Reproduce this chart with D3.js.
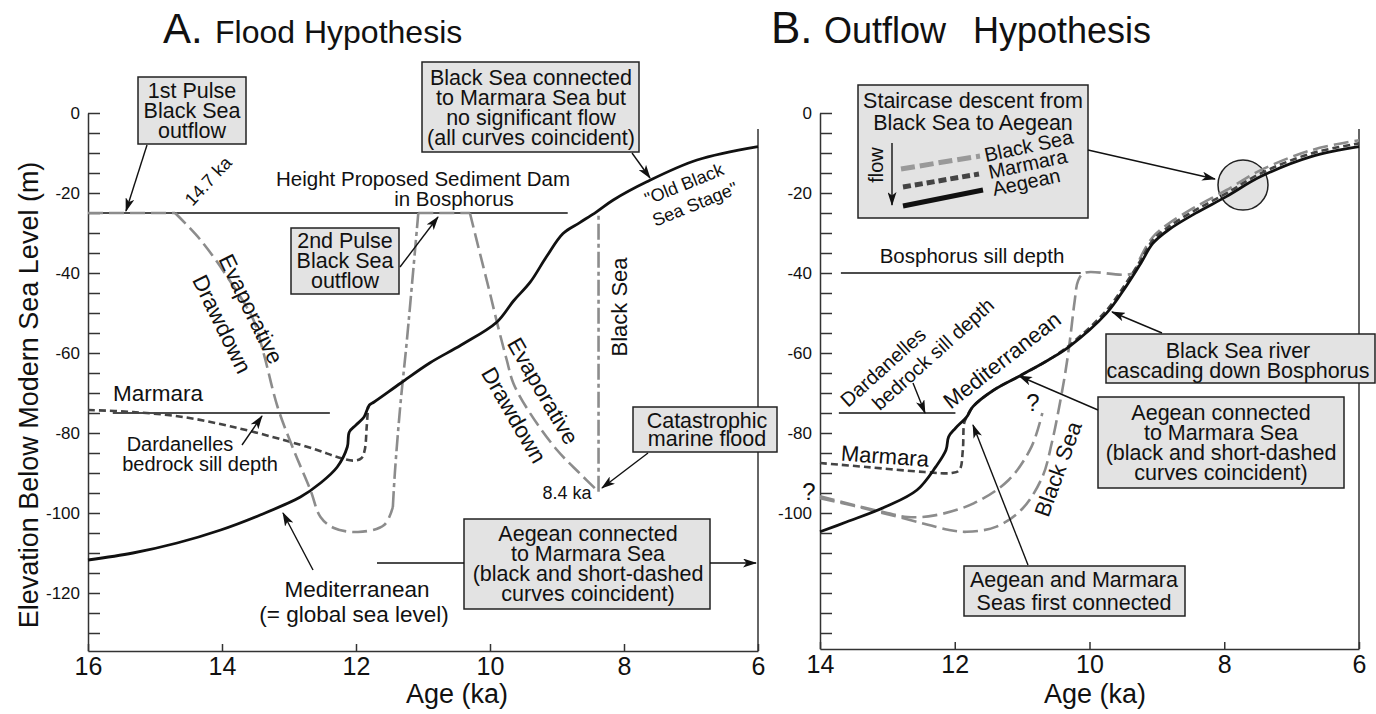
<!DOCTYPE html>
<html>
<head>
<meta charset="utf-8">
<script src="https://cdn.jsdelivr.net/npm/d3@7"></script>
<style>
  body { margin: 0; background: #fff; }
  svg { display: block; font-family: "Liberation Sans", Arial, Helvetica, sans-serif; fill: #111; }
  .box { fill: #e3e3e3; stroke: #222; stroke-width: 1.5; }
  .axis path, .axis line { stroke: #333; stroke-width: 1.5; }
  .axis text { fill: #111; font-family: "Liberation Sans", Arial, sans-serif; }
</style>
</head>
<body>
<svg width="1376" height="714"></svg>
<script>
// ---- data: age (ka), elevation (m) ----
var ageTicksA = [16, 14, 12, 10, 8, 6];
var ageTicksB = [14, 12, 10, 8, 6];
var depthTicks = d3.range(0, -131, -5);

// A. Flood hypothesis
var medA = [[16,-111.75],[15.33,-110],[14.67,-107.5],[14.02,-104.25],[13.43,-100.5],[12.83,-96],[12.53,-92.5],
  [12.28,-88.5],[12.13,-83.5],[12.1,-79.75],[12.0,-78],[11.88,-76],[11.8,-73],[11.73,-72.25],[11.33,-67.5],
  [10.9,-62.5],[10.43,-58],[9.9,-52.3],[9.65,-47],[9.4,-42.3],[9.16,-36],[8.91,-30.1],[8.66,-27.4],
  [8.41,-24.7],[8.16,-21.75],[7.66,-17.2],[6.91,-11.75],[6.0,-8.4]];
var marA = [[16,-74.25],[15.33,-74.75],[14.58,-76],[13.83,-78.5],[13.08,-81.75],[12.58,-84.25],[12.28,-86],
  [12.04,-86.9],[11.92,-86.3],[11.87,-84.25],[11.84,-78.4],[11.82,-73.4]];
var bsAFlat1 = [[16,-25],[14.7,-25]];
var bsADraw1 = [[14.7,-25],[14.32,-31.75],[13.92,-41],[13.53,-51.75],[13.38,-60],[13.17,-73.5],[12.93,-84.25],
  [12.68,-94.25],[12.53,-101],[12.33,-103.75],[11.97,-104.75],[11.58,-103],[11.45,-98.5]];
var bsARise = [[11.45,-98.5],[11.42,-90],[11.34,-73.4],[11.24,-56.75],[11.07,-25]];
var bsAFlat2 = [[11.07,-25],[10.3,-25]];
var bsADraw2 = [[10.3,-25],[10.15,-35.1],[10.0,-45.1],[9.88,-53.4],[9.75,-61.75],[9.65,-67.6],[9.4,-75.1],
  [9.0,-84.25],[8.66,-90.1],[8.38,-94.7]];
var bsAFlood = [[8.38,-94.7],[8.38,-25]];
var damA = [[16,-25],[8.84,-25]];
var sillA = [[15.63,-75],[12.39,-75]];

// B. Outflow hypothesis
var aegB = [[14,-104.7],[13.6,-102.2],[13.02,-98.4],[12.56,-94.25],[12.28,-88.4],[12.13,-84.25],[12.09,-80.9],
  [11.99,-78.8],[11.82,-75.9],[11.73,-73.4],[11.42,-69.25],[11.01,-65.5],[10.61,-61.75],[10.3,-58.4],
  [9.75,-50.1],[9.46,-43.4],[9.24,-37.6],[9.06,-32.6],[8.83,-29.25],[8.43,-25.1],[7.97,-20.9],[7.46,-15.9],
  [6.71,-10.9],[6.0,-8.4]];
var marB = [[14,-87.5],[13.31,-88.5],[12.45,-89.75],[12.04,-90],[11.93,-89.25],[11.88,-84.25],[11.86,-77.5],
  [11.82,-75.9],[11.73,-73.4],[11.42,-69.25],[11.01,-65.5],[10.61,-61.75],[10.3,-58.1],[9.75,-49.4],
  [9.46,-42.6],[9.24,-36.8],[9.06,-31.8],[8.83,-28.5],[8.43,-24.3],[7.97,-20.1],[7.46,-15.1],[6.71,-10.1],
  [6.0,-7.6]];
var bsB = [[14,-96.3],[13.5,-98.2],[13.0,-100.3],[12.47,-102.6],[12.1,-104.2],[11.82,-104.7],[11.38,-103.4],
  [11.0,-99],[10.7,-91],[10.56,-82.5],[10.45,-73.5],[10.36,-65],[10.29,-56.75],[10.22,-47],[10.17,-42],
  [10.08,-40],[9.35,-40],[9.24,-36],[9.06,-31],[8.83,-27.7],[8.43,-23.5],[7.97,-19.3],[7.46,-14.3],
  [6.71,-9.3],[6.0,-6.8]];
var bsBalt = [[14,-95.8],[13.5,-98],[13.0,-100],[12.7,-101],[12.3,-100.6],[11.72,-97.6],[11.2,-91.75],
  [10.86,-83.4],[10.7,-75]];
var bosB = [[13.69,-40],[10.13,-40]];
var sillB = [[13.72,-75],[11.99,-75]];

var svg = d3.select("svg");

svg.append("defs").append("marker")
    .attr("id", "arrow")
    .attr("viewBox", "0 0 14 9")
    .attr("refX", 13)
    .attr("refY", 4.5)
    .attr("markerWidth", 14)
    .attr("markerHeight", 9)
    .attr("markerUnits", "userSpaceOnUse")
    .attr("orient", "auto")
  .append("path")
    .attr("d", "M0,0 L14,4.5 L0,9 L3.5,4.5 Z")
    .style("fill", "#111");

// scales
var xA = d3.scaleLinear().domain([16, 6]).range([88, 758]);
var yA = d3.scaleLinear().domain([0, -134.5]).range([113, 651]);
var xB = d3.scaleLinear().domain([14, 6]).range([820, 1359]);
var yB = d3.scaleLinear().domain([0, -134]).range([113, 649]);

function txt(g, s, x, y, size, rot, anchor) {
  return g.append("text")
    .attr("transform", "translate(" + x + "," + y + ") rotate(" + (rot || 0) + ")")
    .attr("text-anchor", anchor || "middle")
    .attr("dy", "0.35em")
    .style("font-size", size + "px")
    .text(s);
}

function box(g, x0, y0, x1, y1, lines, cx, cy0, step) {
  g.append("rect").attr("class", "box")
    .attr("x", x0).attr("y", y0).attr("width", x1 - x0).attr("height", y1 - y0);
  lines.forEach(function(l, i) { txt(g, l, cx, cy0 + i * step, 21.5); });
}

function arrow(g, x1, y1, x2, y2, head) {
  var a = g.append("line")
    .attr("x1", x1).attr("y1", y1).attr("x2", x2).attr("y2", y2)
    .style("stroke", "#111").style("stroke-width", 1.4);
  if (head !== false) a.attr("marker-end", "url(#arrow)");
  return a;
}

function curve(g, data, x, y, color, width, dash, smooth) {
  var line = d3.line()
    .x(function(d) { return x(d[0]); })
    .y(function(d) { return y(d[1]); })
    .curve(smooth ? d3.curveCatmullRom.alpha(0.5) : d3.curveLinear);
  return g.append("path").datum(data)
    .attr("d", line)
    .style("fill", "none")
    .style("stroke", color)
    .style("stroke-width", width)
    .style("stroke-dasharray", dash || null);
}

function axes(g, x, y, ageTicks, minLabel) {
  var x0 = x.range()[0], x1 = x.range()[1], yb = y.range()[1];
  g.append("g").attr("class", "axis")
    .attr("transform", "translate(" + x0 + ",0)")
    .call(d3.axisLeft(y).tickValues(depthTicks).tickSize(-12).tickSizeOuter(0).tickPadding(8)
      .tickFormat(function(d) { return (d % 20 === 0 && d >= minLabel) ? d : ""; }))
    .selectAll("text").style("font-size", "17px");
  g.append("g").attr("class", "axis")
    .attr("transform", "translate(0," + yb + ")")
    .call(d3.axisBottom(x).tickValues(ageTicks).tickSize(-7).tickSizeOuter(0).tickPadding(6)
      .tickFormat(d3.format("d")))
    .selectAll("text").style("font-size", "25px");
  // right frame
  g.append("line")
    .attr("x1", x1).attr("x2", x1).attr("y1", y(-4)).attr("y2", yb)
    .style("stroke", "#333").style("stroke-width", 1.5);
}

var GRAY = "#8c8c8c", DARK = "#444", BLACK = "#111";
var DASH = "15,6", DASHDOT = "16,4,4,4", SHORT = "7,4";

// ================= Panel A =================
var gA = svg.append("g");
gA.append("text").attr("x", 163).attr("y", 43).style("font-size", "42px").text("A.");
gA.append("text").attr("x", 215).attr("y", 43).style("font-size", "32px").text("Flood Hypothesis");

axes(gA, xA, yA, ageTicksA, -120);
gA.append("text").attr("transform", "translate(38,395) rotate(-90)")
  .attr("text-anchor", "middle").style("font-size", "27px")
  .text("Elevation Below Modern Sea Level (m)");
gA.append("text").attr("x", 457).attr("y", 703).attr("text-anchor", "middle")
  .style("font-size", "27px").text("Age (ka)");

curve(gA, damA, xA, yA, BLACK, 1.5);
curve(gA, sillA, xA, yA, BLACK, 1.5);
curve(gA, marA, xA, yA, DARK, 2.6, SHORT, true);
curve(gA, bsAFlat1, xA, yA, GRAY, 2.6, DASH);
curve(gA, bsADraw1, xA, yA, GRAY, 2.6, DASH, true);
curve(gA, bsARise, xA, yA, GRAY, 2.6, DASHDOT, true);
curve(gA, bsAFlat2, xA, yA, GRAY, 2.6, DASH);
curve(gA, bsADraw2, xA, yA, GRAY, 2.6, DASH, true);
curve(gA, bsAFlood, xA, yA, GRAY, 2.6, DASHDOT);
curve(gA, medA, xA, yA, BLACK, 2.8, null, true);

box(gA, 138, 77, 246, 144, ["1st Pulse", "Black Sea", "outflow"], 192, 90, 20);
arrow(gA, 147, 145, 126, 211);
txt(gA, "14.7 ka", 208, 181, 18, -47);
txt(gA, "Height Proposed Sediment Dam", 423, 179, 20.5);
txt(gA, "in Bosphorus", 454, 199, 20.5);
box(gA, 291, 228, 399, 294, ["2nd Pulse", "Black Sea", "outflow"], 345, 240, 20);
arrow(gA, 400, 267, 438, 217);
box(gA, 422, 62, 639, 152, ["Black Sea connected", "to Marmara Sea but", "no significant flow",
  "(all curves coincident)"], 531, 77, 20);
arrow(gA, 632, 153, 650, 178);
txt(gA, "\"Old Black", 684, 184, 18, -22);
txt(gA, "Sea Stage\"", 695, 204, 18, -22);
txt(gA, "Black Sea", 619, 307, 22, -90);
txt(gA, "Evaporative", 251, 309, 22.5, 64);
txt(gA, "Drawdown", 222, 324, 22.5, 64);
txt(gA, "Evaporative", 543, 391, 22.5, 60);
txt(gA, "Drawdown", 514, 415, 22.5, 60);
box(gA, 633, 407, 777, 452, ["Catastrophic", "marine flood"], 707, 420, 18.5);
arrow(gA, 648, 453, 602, 488);
txt(gA, "8.4 ka", 567, 493, 18);
box(gA, 464, 519, 710, 609, ["Aegean connected", "to Marmara Sea", "(black and short-dashed",
  "curves coincident)"], 588, 533, 20.3);
arrow(gA, 377, 563, 464, 563, false);
arrow(gA, 710, 563, 756, 563);
txt(gA, "Mediterranean", 357, 589, 22.5);
txt(gA, "(= global sea level)", 354, 614, 22.5);
arrow(gA, 313, 570, 283, 513);
txt(gA, "Marmara", 113, 393, 22.5, 0, "start");
txt(gA, "Dardanelles", 180, 444, 20);
txt(gA, "bedrock sill depth", 200, 464, 20);
arrow(gA, 242, 445, 262, 416);

// ================= Panel B =================
var gB = svg.append("g");
gB.append("text").attr("x", 771).attr("y", 43).style("font-size", "44px").text("B.");
gB.append("text").attr("x", 824).attr("y", 43).style("font-size", "36px").text("Outflow");
gB.append("text").attr("x", 973).attr("y", 43).style("font-size", "36px").text("Hypothesis");

axes(gB, xB, yB, ageTicksB, -100);
gB.append("text").attr("x", 1095).attr("y", 703).attr("text-anchor", "middle")
  .style("font-size", "27px").text("Age (ka)");

gB.append("circle").attr("cx", 1243).attr("cy", 185).attr("r", 25)
  .style("fill", "#e3e3e3").style("stroke", "#222").style("stroke-width", 1.5);

curve(gB, bosB, xB, yB, BLACK, 1.5);
curve(gB, sillB, xB, yB, BLACK, 1.5);
curve(gB, bsBalt, xB, yB, GRAY, 2.6, DASH, true);
curve(gB, bsB, xB, yB, GRAY, 2.6, DASH, true);
curve(gB, marB, xB, yB, DARK, 2.6, SHORT, true);
curve(gB, aegB, xB, yB, BLACK, 2.8, null, true);

// legend
gB.append("rect").attr("class", "box").attr("x", 858).attr("y", 85).attr("width", 230).attr("height", 133);
txt(gB, "Staircase descent from", 973, 100, 21.5);
txt(gB, "Black Sea to Aegean", 973, 122, 21.5);
gB.append("line").attr("x1", 901).attr("y1", 169).attr("x2", 980).attr("y2", 156)
  .style("stroke", "#999").style("stroke-width", 5).style("stroke-dasharray", "14,5");
gB.append("line").attr("x1", 903).attr("y1", 187).attr("x2", 979).attr("y2", 174)
  .style("stroke", DARK).style("stroke-width", 5).style("stroke-dasharray", "8,4");
gB.append("line").attr("x1", 903).attr("y1", 206).attr("x2", 983).attr("y2", 190)
  .style("stroke", BLACK).style("stroke-width", 5);
gB.append("text").attr("transform", "translate(986,162) rotate(-12)").style("font-size", "20px").text("Black Sea");
gB.append("text").attr("transform", "translate(990,179) rotate(-12)").style("font-size", "20px").text("Marmara");
gB.append("text").attr("transform", "translate(994,196) rotate(-12)").style("font-size", "20px").text("Aegean");
gB.append("text").attr("transform", "translate(883,165) rotate(-90)").attr("text-anchor", "middle")
  .style("font-size", "20px").text("flow");
arrow(gB, 892, 143, 892, 205);
arrow(gB, 1088, 150, 1215, 179);

txt(gB, "Bosphorus sill depth", 972, 256, 20.5);
txt(gB, "Dardanelles", 883, 367, 20, -42);
txt(gB, "bedrock sill depth", 933, 354, 20, -42);
arrow(gB, 913, 383, 925, 413);
txt(gB, "Mediterranean", 1002, 360, 22, -38);
txt(gB, "?", 1033, 403, 24);
txt(gB, "?", 809, 492, 24);
txt(gB, "Marmara", 885, 456, 22, 4);
txt(gB, "Black Sea", 1058, 469, 22, -70);

box(gB, 1106, 334, 1375, 383, ["Black Sea river", "cascading down Bosphorus"], 1238, 350, 20);
arrow(gB, 1162, 333, 1112, 312);
box(gB, 1098, 397, 1344, 488, ["Aegean connected", "to Marmara Sea", "(black and short-dashed",
  "curves coincident)"], 1221, 412, 20.3);
arrow(gB, 1098, 410, 1019, 376);
box(gB, 964, 566, 1185, 616, ["Aegean and Marmara", "Seas first connected"], 1074, 579, 23);
arrow(gB, 1028, 565, 973, 425);
</script>
</body>
</html>
